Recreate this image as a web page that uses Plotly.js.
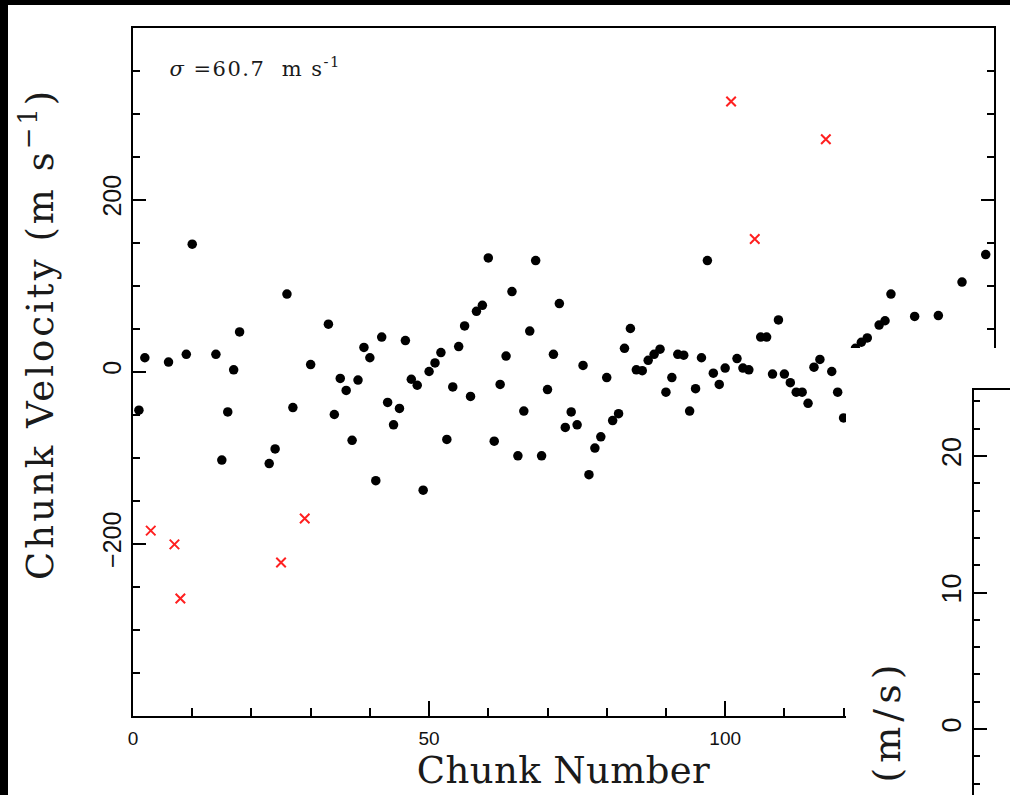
<!DOCTYPE html>
<html>
<head>
<meta charset="utf-8">
<script src="https://cdn.plot.ly/plotly-3.0.1.min.js"></script>
<style>
html,body{margin:0;padding:0;background:#fff;overflow:hidden}
text.xtitle{letter-spacing:0.4px}
g.annotation[data-index="0"] text{letter-spacing:1.5px}
g.annotation[data-index="1"] text{letter-spacing:5px}
g.annotation[data-index="2"] text{letter-spacing:3px}
</style>
</head>
<body>
<div id="chart" style="width:1010px;height:795px"></div>
<script>
// ---- data ----
const chunkNumbers = [1,2,6,9,10,14,15,16,17,18,23,24,26,27,30,33,34,35,36,37,38,39,40,41,42,43,44,45,46,47,48,49,50,51,52,53,54,55,56,57,58,59,60,61,62,63,64,65,66,67,68,69,70,71,72,73,74,75,76,77,78,79,80,81,82,83,84,85,86,87,88,89,90,91,92,93,94,95,96,97,98,99,100,102,103,104,106,107,108,109,110,111,112,113,114,115,116,118,119,120,122,123,124,126,127,128,132,136,140,144];
const chunkVelocities = [-45,16,11,20,148,20,-103,-47,2,46,-107,-90,90,-42,8,55,-50,-8,-22,-80,-10,28,16,-127,40,-36,-62,-43,36,-9,-16,-138,0,10,22,-79,-18,29,53,-29,70,77,132,-81,-15,18,93,-98,-46,47,129,-98,-21,20,79,-65,-47,-62,7,-120,-89,-76,-7,-57,-49,27,50,2,1,13,20,26,-24,-7,20,19,-46,-20,16,129,-2,-15,4,15,4,2,40,40,-3,60,-3,-13,-24,-24,-37,5,14,0,-24,-54,27,34,39,54,59,90,64,65,104,136];
const rejectedChunks = [3,7,8,25,29,101,105,117];
const rejectedVelocities = [-185,-201,-264,-222,-171,314,154,270];
const xTickValues = [0,50,100];
const yTickValues = [-200,0,200];
const insetTickValues = [0,10,20];
const xTitle = 'Chunk Number';
const yTitle = 'Chunk Velocity (m s<sup>\u22121</sup>)';
const insetTitle = '(m/s)';
const sigmaLabel = '<i>\u03c3</i> =60.7  m s<sup>-1</sup>';

// ---- layout helpers (pixel -> paper) ----
const W = 1010, H = 795;
const fx = p => p / W;
const fy = p => 1 - p / H;

const traces = [
  {
    type: 'scatter', mode: 'markers', x: chunkNumbers, y: chunkVelocities,
    xaxis: 'x', yaxis: 'y', hoverinfo: 'x+y', showlegend: false,
    marker: {symbol: 'circle', size: 9.5, color: '#000000'}
  },
  {
    type: 'scatter', mode: 'markers', x: rejectedChunks, y: rejectedVelocities,
    xaxis: 'x', yaxis: 'y', hoverinfo: 'x+y', showlegend: false,
    marker: {symbol: 'x-thin', size: 9.5, color: '#ff2020', line: {color: '#ff2020', width: 2}}
  },
  // holder subplot for the overlapping panel background
  {type: 'scatter', mode: 'markers', x: [], y: [], xaxis: 'x2', yaxis: 'y2', showlegend: false, hoverinfo: 'skip'},
  // overlapping second panel axes
  {type: 'scatter', mode: 'markers', x: [], y: [], xaxis: 'x3', yaxis: 'y3', showlegend: false, hoverinfo: 'skip'}
];

const axisCommon = {
  showgrid: false, zeroline: false, showline: true, linecolor: '#000', linewidth: 2,
  ticks: 'inside', tickcolor: '#000', tickwidth: 2, fixedrange: true
};

const layout = {
  width: W, height: H, autosize: false,
  margin: {l: 0, r: 0, t: 0, b: 0, pad: 0},
  paper_bgcolor: '#ffffff', plot_bgcolor: 'rgba(0,0,0,0)',
  showlegend: false,
  xaxis: Object.assign({}, axisCommon, {
    domain: [fx(133), fx(994)], range: [0, 145.4], anchor: 'y',
    mirror: true, tickmode: 'array', tickvals: xTickValues, ticklen: 15,
    minor: {dtick: 10, tick0: 0, ticks: 'inside', ticklen: 8, tickwidth: 2, tickcolor: '#000', showgrid: false},
    tickfont: {family: 'Liberation Sans, Arial, sans-serif', size: 19, color: '#111'},
    ticklabelstandoff: 5,
    title: {text: xTitle, font: {family: 'DejaVu Serif, serif', size: 37, color: '#1a1a1a'}, standoff: 5}
  }),
  yaxis: Object.assign({}, axisCommon, {
    domain: [fy(715.5), fy(27.5)], range: [-400, 400], anchor: 'x',
    mirror: 'ticks', tickmode: 'array', tickvals: yTickValues, ticklen: 13,
    minor: {dtick: 50, tick0: 0, ticks: 'inside', ticklen: 7, tickwidth: 2, tickcolor: '#000', showgrid: false},
    tickangle: -90,
    tickfont: {family: 'Liberation Sans, Arial, sans-serif', size: 25, color: '#111'},
    ticklabelstandoff: 0
  }),
  xaxis2: {domain: [fx(846), 1], range: [0, 1], anchor: 'y2', visible: false, fixedrange: true},
  yaxis2: {domain: [0, fy(348)], range: [0, 1], anchor: 'x2', visible: false, fixedrange: true},
  xaxis3: Object.assign({}, axisCommon, {
    domain: [fx(974), 1], range: [0, 1], anchor: 'y3', side: 'top',
    ticks: '', showticklabels: false, mirror: false
  }),
  yaxis3: Object.assign({}, axisCommon, {
    domain: [0, fy(390)], range: [-4.84, 24.84], anchor: 'x3', mirror: false,
    tickmode: 'array', tickvals: insetTickValues, ticklen: 13,
    minor: {dtick: 2, tick0: 0, ticks: 'inside', ticklen: 6, tickwidth: 2, tickcolor: '#000', showgrid: false},
    tickangle: -90,
    tickfont: {family: 'Liberation Sans, Arial, sans-serif', size: 27, color: '#111'},
    ticklabelstandoff: 0
  }),
  shapes: [
    // black frame of the photographed page
    {type: 'rect', xref: 'paper', yref: 'paper', x0: 0, x1: 1, y0: fy(5), y1: 1, fillcolor: '#000', line: {width: 0}, layer: 'below'},
    {type: 'rect', xref: 'paper', yref: 'paper', x0: 0, x1: fx(8), y0: 0, y1: 1, fillcolor: '#000', line: {width: 0}, layer: 'below'},
    // white page of the overlapping second panel
    {type: 'rect', xref: 'x2', yref: 'y2', x0: 0, x1: 1, y0: 0, y1: 1, fillcolor: '#ffffff', line: {width: 0}, layer: 'below'}
  ],
  annotations: [
    {xref: 'paper', yref: 'paper', x: fx(178), y: fy(67), xanchor: 'left', yanchor: 'middle',
     text: sigmaLabel, showarrow: false, font: {family: 'DejaVu Serif, serif', size: 21, color: '#1a1a1a'}},
    {xref: 'paper', yref: 'paper', x: fx(887), y: fy(721), xanchor: 'center', yanchor: 'middle',
     text: insetTitle, textangle: -90, showarrow: false, font: {family: 'DejaVu Serif, serif', size: 38, color: '#1a1a1a'}},
    {xref: 'paper', yref: 'paper', x: fx(37), y: fy(334), xanchor: 'center', yanchor: 'middle',
     text: yTitle, textangle: -90, showarrow: false, font: {family: 'DejaVu Serif, serif', size: 37, color: '#1a1a1a'}}
  ]
};

Plotly.newPlot('chart', traces, layout, {displayModeBar: false, staticPlot: true});
</script>
</body>
</html>
